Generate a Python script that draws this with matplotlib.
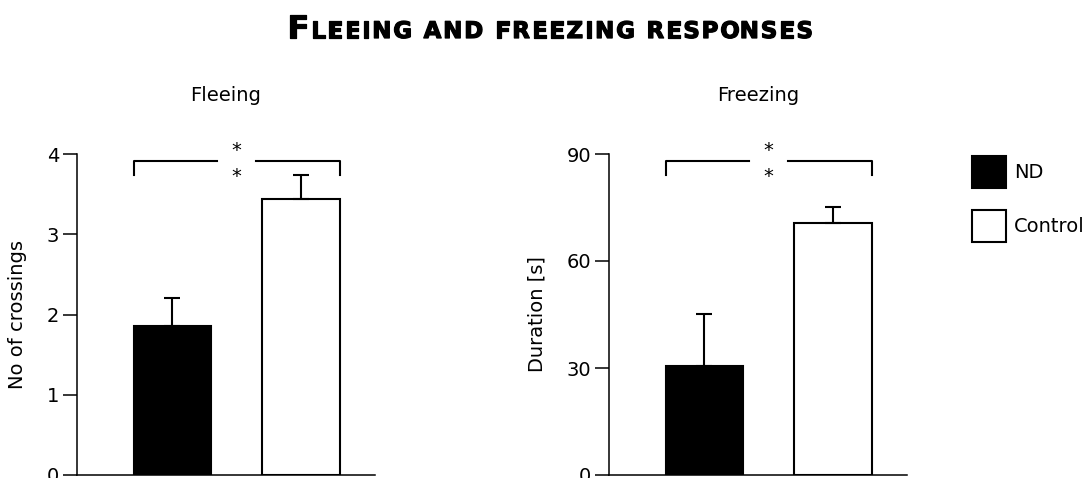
import matplotlib
matplotlib.use("Agg")
import matplotlib.pyplot as plt
import matplotlib.patheffects as pe
from matplotlib.patches import Patch

plt.rcParams['font.family'] = 'DejaVu Sans'

# data
groups = ["ND", "Control"]
colors = ["black", "white"]
fleeing_mean = [1.86, 3.44]
fleeing_err = [0.35, 0.30]
freezing_mean = [30.6, 70.7]
freezing_err = [14.5, 4.4]
panel_titles = ["Fleeing", "Freezing"]
y_labels = ["No of crossings", "Duration [s]"]
y_ticks = [[0, 1, 2, 3, 4], [0, 30, 60, 90]]
sig_label = "*\n*"
title_first = "F"
title_rest = "LEEING AND FREEZING RESPONSES"

W, H = 1091, 478
fig = plt.figure(figsize=(W / 100, H / 100), dpi=100)

# axes boxes in pixels: (left, right), bottom 475, top 154
boxes = [(77, 375), (609, 907)]
ax_list = []
for (l, r) in boxes:
    ax = fig.add_axes([l / W, (H - 475) / H, (r - l) / W, (475 - 154) / H])
    ax_list.append(ax)

means = [fleeing_mean, freezing_mean]
errs = [fleeing_err, freezing_err]
x = [0, 1]
for i, ax in enumerate(ax_list):
    ax.bar(x, means[i], width=0.6, color=colors, edgecolor="black", linewidth=1.5,
           yerr=[[0, 0], errs[i]], capsize=6,
           error_kw=dict(elinewidth=1.5, capthick=1.5, ecolor="black"), zorder=2)
    ax.set_xlim(-0.74, 1.575)
    ax.set_ylim(0, y_ticks[i][-1])
    ax.set_yticks(y_ticks[i])
    ax.set_xticks([])
    for s in ["top", "right"]:
        ax.spines[s].set_visible(False)
    for s in ["left", "bottom"]:
        ax.spines[s].set_linewidth(1.1)
    ax.tick_params(axis="y", length=10, width=1.1, labelsize=14, pad=3)
    ax.set_ylabel(y_labels[i], fontsize=14, labelpad=14)
    ax.set_title(panel_titles[i], fontsize=14, pad=38)

    # significance bracket
    tr = ax.get_xaxis_transform()
    xl, xr = -0.3, 1.3
    yb, yt = 0.935, 0.978
    gap = 0.15
    ax.plot([xl, xl, 0.5 - gap], [yb, yt, yt], color="black", lw=1.5, transform=tr, clip_on=False)
    ax.plot([0.5 + gap, xr, xr], [yt, yt, yb], color="black", lw=1.5, transform=tr, clip_on=False)
    ax.text(0.5, 0.97, sig_label, transform=tr, ha="center", va="center",
            fontsize=14, linespacing=1.5, clip_on=False)

# legend
handles = [Patch(facecolor=c, edgecolor="black", linewidth=1.5, label=g) for g, c in zip(groups, colors)]
fig.legend(handles=handles, loc="upper left", bbox_to_anchor=(972 / W, 1 - 156 / H),
           frameon=False, fontsize=14, borderpad=0, borderaxespad=0,
           handlelength=1.75, handleheight=2.17, handletextpad=0.4, labelspacing=1.1)

# small caps title, drawn letter by letter
r = fig.canvas.get_renderer()


def text_w(s, fs):
    t = fig.text(0, 0, s, fontsize=fs, fontweight="bold")
    w = t.get_window_extent(r).width
    t.remove()
    return w


chars = [(title_first, 23)] + [(c, 16.5) for c in title_rest]
adv = [text_w("X" + c + "X", fs) - text_w("XX", fs) for c, fs in chars]
target = 526
track = (target - sum(adv)) / (len(chars) - 1)
xpos = 287
base_y = 1 - 38 / H
heavy = [pe.withStroke(linewidth=0.9, foreground="black")]
for (c, fs), a in zip(chars, adv):
    if c != " ":
        fig.text(xpos / W, base_y, c, fontsize=fs, fontweight="bold", va="baseline",
                 path_effects=heavy)
    xpos += a + track

fig.savefig("out.png", dpi=100)
